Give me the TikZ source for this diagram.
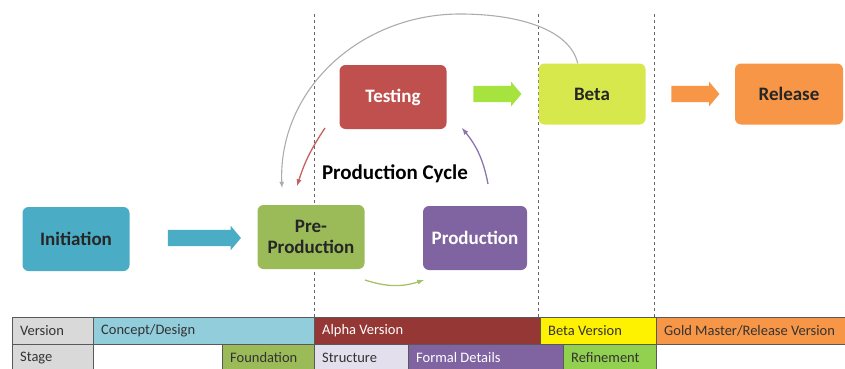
\documentclass[tikz,border=0pt]{standalone}
\usepackage{fontspec}
\setmainfont{Carlito}
\usetikzlibrary{shapes.arrows, positioning}
\definecolor{initblue}{HTML}{4BACC6}
\definecolor{preg}{HTML}{9BBB59}
\definecolor{prodp}{HTML}{8064A2}
\definecolor{testr}{HTML}{C0504D}
\definecolor{betay}{HTML}{D7E84C}
\definecolor{relo}{HTML}{F79646}
\definecolor{arrg}{HTML}{A6E33F}
\definecolor{verg}{HTML}{D9D9D9}
\definecolor{concb}{HTML}{92CDDC}
\definecolor{alphar}{HTML}{953735}
\definecolor{structl}{HTML}{E4DFEC}
\definecolor{refg}{HTML}{92D050}
\tikzset{
    stagebox/.style={rounded corners=6pt, minimum width=107pt, minimum height=64pt,
        align=center, font=\fontsize{19}{21}\selectfont\bfseries, inner sep=2pt},
    blockarrow/.style={single arrow, single arrow head extend=4pt, minimum height=48pt,
        inner xsep=0pt, inner ysep=8pt, single arrow tip angle=100},
    cyclearrow/.style={-latex, line width=1.3pt},
    cellbox/.style={anchor=west, font=\fontsize{14.5}{16}\selectfont, inner sep=0pt},
}
\begin{document}
\begin{tikzpicture}[x=1pt, y=-1pt]
\useasboundingbox (0,0) rectangle (845,369);
% phase borders
\foreach \x in {314,538,654}{
    \draw[dashed, gray!80!black, line width=0.6pt] (\x,14) -- (\x,317);
}
% stages
\node[stagebox, fill=initblue, text=black!85] (init) at (76,239) {Initiation};
\node[stagebox, fill=preg, text=black!85] (pre) at (311,237) {Pre-\\Production};
\node[stagebox, fill=prodp, text=white, minimum width=104pt] (prod) at (475,238) {Production};
\node[stagebox, fill=testr, text=white] (test) at (393,97) {Testing};
\node[stagebox, fill=betay, text=black!85, minimum height=61pt] (beta) at (592,94) {Beta};
\node[stagebox, fill=relo, text=black!85, minimum width=108pt, minimum height=61pt] (rel) at (789,94) {Release};
\node[font=\fontsize{21}{23}\selectfont\bfseries] (cycle) at (395,174) {Production Cycle};
% block arrows
\node[blockarrow, fill=initblue, minimum height=73pt] (a1) at (201,238) {};
\node[blockarrow, fill=arrg] (a2) at (494,94) {};
\node[blockarrow, fill=relo] (a3) at (692,94) {};
% cycle arrows
\coordinate (redfrom) at (325,128);
\coordinate (redto) at (297,186);
\coordinate (purfrom) at (488,184);
\coordinate (purto) at (462,128);
\coordinate (grnfrom) at (365,280);
\coordinate (grnto) at (424,280);
\coordinate (arctop) at (460,14);
\coordinate (grayto) at (282,188);
\draw[cyclearrow, testr!90!white] (redfrom) to[bend right=8] (redto);
\draw[cyclearrow, prodp!90!white] (purfrom) to[bend right=14] (purto);
\draw[cyclearrow, preg!90!white] (grnfrom) to[bend right=18] (grnto);
\draw[-latex, line width=1.1pt, gray!65] (beta.115) .. controls (570,30) and (520,14) .. (arctop)
    .. controls (360,14) and (278,90) .. (grayto);
% version / stage table
\foreach \xa/\xb/\col/\txt/\tcol in {12/93/verg/Version/black!80, 93/314/concb/Concept\slash Design/black!80,
    314/540/alphar/Alpha Version/white, 540/656/yellow/Beta Version/black!80,
    656/845/relo/Gold Master\slash Release Version/black!80}{
    \draw[fill=\col, draw=black!65] (\xa,317) rectangle (\xb,344);
    \node[cellbox, text=\tcol] at (\xa+8,331) {\txt};
}
\foreach \xa/\xb/\col/\txt/\tcol in {12/93/verg/Stage/black!80, 93/222/white//black,
    222/314/preg/Foundation/black!80, 314/408/structl/Structure/black!80,
    408/563/prodp/Formal Details/white, 563/656/refg/Refinement/black!80}{
    \draw[fill=\col, draw=black!65] (\xa,344) rectangle (\xb,372);
    \node[cellbox, text=\tcol] at (\xa+8,358) {\txt};
}
\end{tikzpicture}
\end{document}
